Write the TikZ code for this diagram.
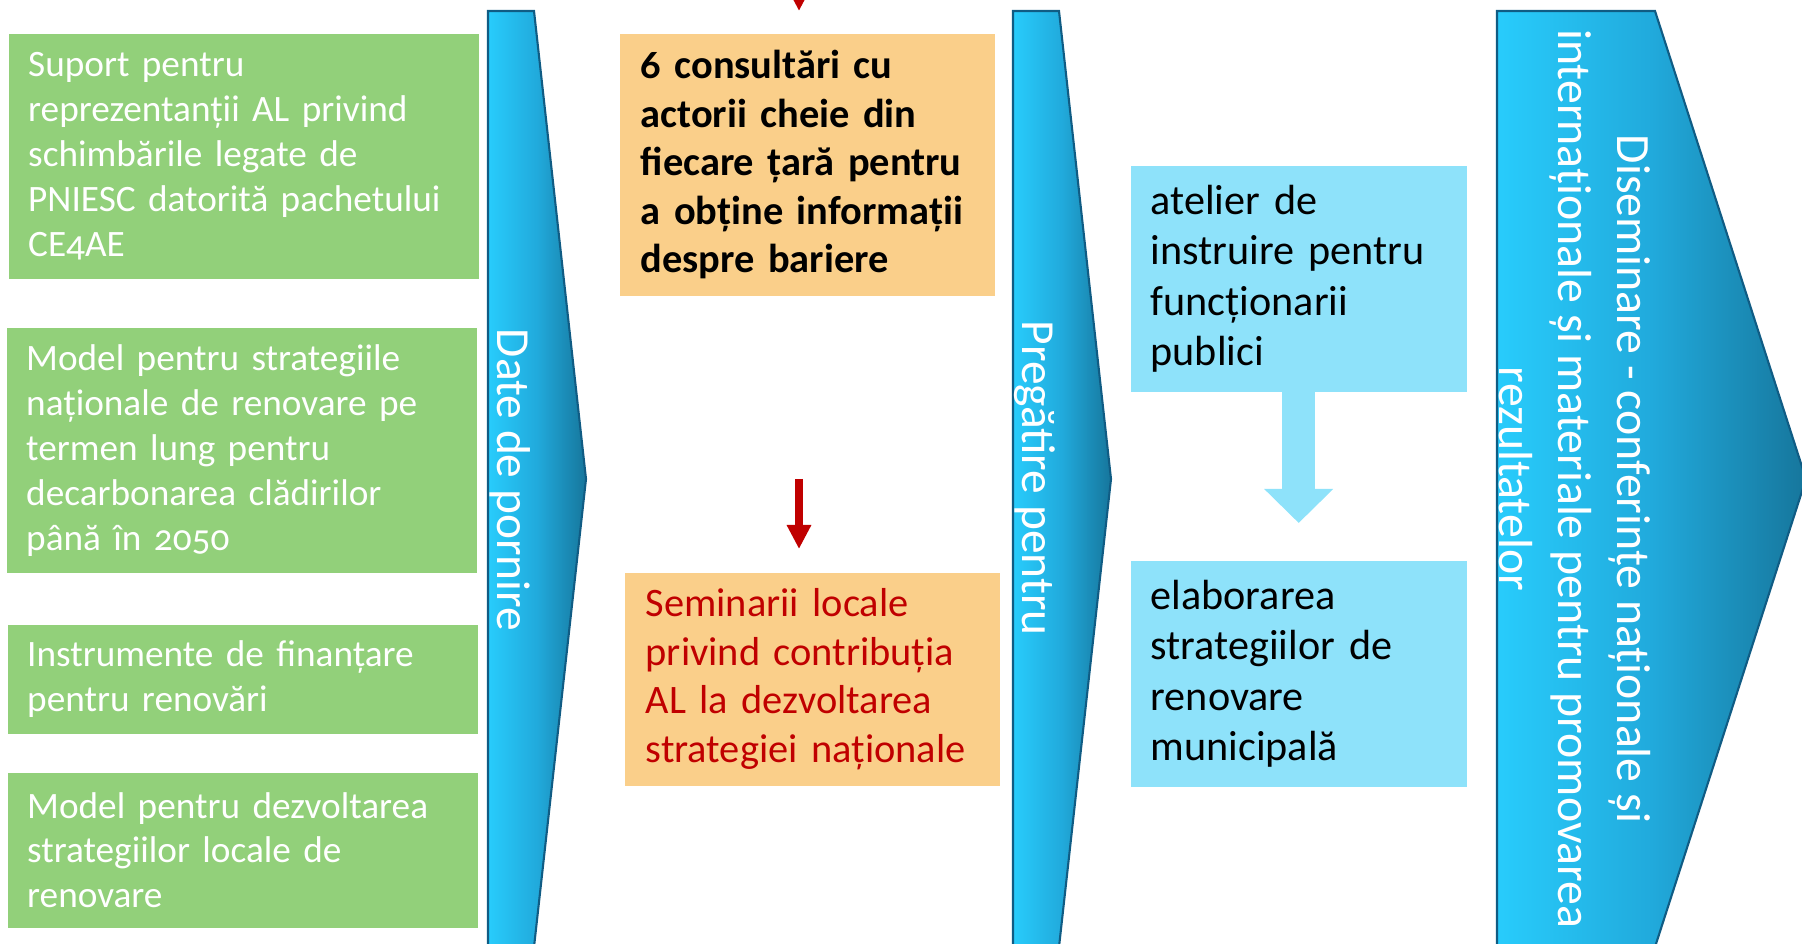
\documentclass[tikz,border=0pt]{standalone}
\usepackage{fontspec}
\setmainfont{Carlito}[Numbers=OldStyle]
\usetikzlibrary{arrows.meta}
\definecolor{greenfill}{RGB}{146,208,122}
\definecolor{orangefill}{RGB}{250,207,138}
\definecolor{darkred}{RGB}{192,0,0}
\definecolor{lightbluefill}{RGB}{142,226,250}
\definecolor{cyanleft}{RGB}{40,204,252}
\definecolor{cyanmid}{RGB}{33,170,220}
\definecolor{cyanright}{RGB}{22,118,156}
\definecolor{cyanborder}{RGB}{16,92,132}

\begin{document}
\begin{tikzpicture}[x=0.1mm, y=-0.1mm,
    greenbox/.style={fill=greenfill, text=white, anchor=north west, inner xsep=0.195cm,
      inner ysep=0pt, text width=4.31cm, align=left, font=\fontsize{10.6}{12.8}\selectfont},
    orangebox/.style={fill=orangefill, anchor=north west, inner xsep=0.21cm,
      inner ysep=0pt, text width=3.33cm, align=left, font=\fontsize{11.5}{13.8}\selectfont},
    lightbox/.style={fill=lightbluefill, anchor=north west, inner xsep=0.2cm,
      inner ysep=0pt, text width=2.96cm, align=left, font=\fontsize{12}{14.4}\selectfont},
    chevron/.style={draw=cyanborder, line width=0.6pt, left color=cyanleft,
      right color=cyanright, middle color=cyanmid},
    phase/.style={rotate=-90, text=white, font=\fontsize{13.5}{16}\selectfont},
    redarrow/.style={draw=darkred, line width=0.08cm, -{Triangle[width=0.23cm,length=0.24cm]}},
    bigarrow/.style={draw=lightbluefill, line width=0.33cm, -{Triangle[width=0.67cm,length=0.34cm]}}]
  \useasboundingbox (0,0) rectangle (1802,944);

  % phases
  \path[chevron] (488,11) -- (534,11) -- (586,479) -- (534,947) -- (488,947) -- cycle;
  \path[chevron] (1013,11) -- (1059,11) -- (1111,479) -- (1059,947) -- (1013,947) -- cycle;
  \path[chevron] (1497,11) -- (1655,11) -- (1806,479) -- (1655,947) -- (1497,947) -- cycle;
  \node[phase] (start) at (510,480) {Date de pornire};
  \node[phase] (prep) at (1035,478) {Pregătire pentru};
  \node[phase, align=center, font=\fontsize{13.6}{16.9}\selectfont] (dissem) at (1575,479)
    {Diseminare - conferințe naționale și\\internaționale și materiale pentru promovarea\\rezultatelor};

  % inputs
  \node[greenbox, minimum height=2.45cm] (g1) at (8,33)
    {Suport pentru\\reprezentanții AL privind\\schimbările legate de\\PNIESC datorită pachetului\\CE4AE};
  \node[greenbox, minimum height=2.45cm] (g2) at (6,327)
    {Model pentru strategiile\\naționale de renovare pe\\termen lung pentru\\decarbonarea clădirilor\\până în 2050};
  \node[greenbox, minimum height=1.09cm] (g3) at (7,624)
    {Instrumente de finanțare\\pentru renovări};
  \node[greenbox, minimum height=1.55cm] (g4) at (7,772)
    {Model pentru dezvoltarea\\strategiilor locale de\\renovare};

  % consultations
  \node[orangebox, minimum height=2.62cm, font=\fontsize{11.5}{13.8}\selectfont\bfseries] (cons) at (619,33)
    {6 consultări cu\\actorii cheie din\\fiecare țară pentru\\a obține informații\\despre bariere};
  \node[orangebox, minimum height=2.13cm, text=darkred] (sem) at (624,572)
    {Seminarii locale\\privind contribuția\\AL la dezvoltarea\\strategiei naționale};
  \coordinate (redin) at (799,-40);
  \coordinate (redout) at (799,479);
  \draw[redarrow, shorten >=0.22cm] (redin) -- (redin |- cons.north);
  \draw[redarrow, shorten >=0.23cm] (redout) -- (redout |- sem.north);

  % training
  \node[lightbox, minimum height=2.26cm] (work) at (1130,165)
    {atelier de\\instruire pentru\\funcționarii\\publici};
  \node[lightbox, minimum height=2.26cm] (muni) at (1130,560)
    {elaborarea\\strategiilor de\\renovare\\municipală};
  \draw[bigarrow, shorten >=0.37cm] (work.south) -- (muni.north);
\end{tikzpicture}
\end{document}
